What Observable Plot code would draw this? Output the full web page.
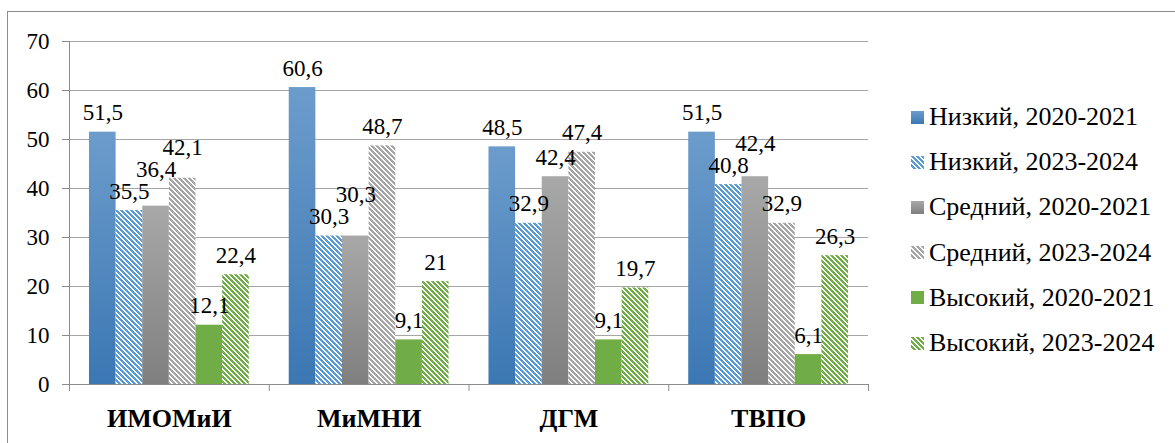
<!DOCTYPE html>
<html>
<head>
<meta charset="utf-8">
<script src="https://cdn.jsdelivr.net/npm/d3@7"></script>
<script src="https://cdn.jsdelivr.net/npm/@observablehq/plot@0.6"></script>
<style>
  body { margin: 0; background: #fff; }
  #wrap { position: relative; width: 1175px; height: 443px; overflow: hidden; font-family: "Liberation Serif", "DejaVu Serif", serif; }
  #border { position: absolute; left: 7px; top: 11px; width: 1300px; height: 600px; border-top: 1px solid #8c8c8c; border-left: 1px solid #8c8c8c; }
  #chart { position: absolute; left: 0; top: 0; }
  #legend { position: absolute; left: 911px; top: 0; }
  .row { position: absolute; left: 0; display: flex; align-items: center; white-space: nowrap; font-size: 26px; line-height: 30px; height: 30px; color: #000; }
  .row svg { margin-right: 5px; }
</style>
</head>
<body>
<div id="wrap">
  <div id="border"></div>
  <div id="chart"></div>
  <div id="legend"></div>
</div>
<script>
// ---- data ----
const categories = ["ИМОМиИ", "МиМНИ", "ДГМ", "ТВПО"];
const seriesNames = ["Низкий, 2020-2021", "Низкий, 2023-2024", "Средний, 2020-2021", "Средний, 2023-2024", "Высокий, 2020-2021", "Высокий, 2023-2024"];
const low2020 = [51.5, 60.6, 48.5, 51.5];
const low2023 = [35.5, 30.3, 32.9, 40.8];
const mid2020 = [36.4, 30.3, 42.4, 42.4];
const mid2023 = [42.1, 48.7, 47.4, 32.9];
const high2020 = [12.1, 9.1, 9.1, 6.1];
const high2023 = [22.4, 21, 19.7, 26.3];
const yTicks = [0, 10, 20, 30, 40, 50, 60, 70];

// ---- styles ----
const seriesValues = [low2020, low2023, mid2020, mid2023, high2020, high2023];
const fills = ["url(#gBlue)", "url(#hBlue)", "url(#gGray)", "url(#hGray)", "#70ad47", "url(#hGreen)"];
const nS = seriesNames.length;
const groupPad = 0.1;
const bw = (1 - 2 * groupPad) / nS;
const H = 443, MT = 41, MB = 59, YMAX = 70;
const pxPerUnit = (H - MT - MB) / YMAX;
const labelH = 22 / pxPerUnit; // label height in data units

const rows = categories.flatMap((c, i) => seriesValues.map((vals, j) => ({cat: c, i, j, value: vals[i]})));
// lift a value label above its left neighbour when they would collide
categories.forEach((c, i) => {
  let prev = null;
  rows.filter(d => d.i === i).forEach(d => {
    let ly = d.value;
    if (prev !== null && ly < prev + labelH && ly + labelH > prev) ly = prev + labelH;
    d.labelY = ly;
    prev = ly;
  });
});
const fmt = v => String(v).replace(".", ",");
const font = "'Liberation Serif', 'DejaVu Serif', serif";
const axisColor = "#8c8c8c";

const marks = [
  Plot.gridY({ticks: yTicks, stroke: "#a6a6a6", strokeOpacity: 1}),
  ...seriesValues.map((_, j) => Plot.rectY(rows.filter(d => d.j === j), {
    x1: d => d.i + groupPad + d.j * bw,
    x2: d => d.i + groupPad + (d.j + 1) * bw,
    y1: 0, y2: "value", fill: fills[j]
  })),
  Plot.ruleX([0], {y1: 0, y2: YMAX, stroke: axisColor}),
  Plot.ruleY([0], {stroke: axisColor}),
  Plot.axisY({ticks: yTicks, tickSize: 7, tickPadding: 13, stroke: axisColor, strokeOpacity: 1, fill: "#000", fontSize: 23, fontFamily: font, label: null}),
  Plot.axisX({ticks: [0, 1, 2, 3, 4], tickSize: 7, tickFormat: () => "", stroke: axisColor, strokeOpacity: 1, label: null}),
  Plot.text(rows, {
    x: d => d.i + groupPad + (d.j + 0.5) * bw, y: "labelY", text: d => fmt(d.value),
    lineAnchor: "bottom", dy: -12, fontSize: 23, fontFamily: font, fill: "#000"
  }),
  Plot.text(categories, {
    x: (d, i) => i + 0.5, y: () => 0, text: d => d,
    lineAnchor: "middle", dy: 34, fontSize: 26, fontWeight: "bold", fontFamily: font, fill: "#000"
  })
];

const chart = Plot.plot({
  width: 1175, height: H,
  marginLeft: 69, marginRight: 307, marginTop: MT, marginBottom: MB,
  x: {type: "linear", domain: [0, categories.length], axis: null},
  y: {domain: [0, YMAX], axis: null},
  style: {background: "transparent", overflow: "visible", fontFamily: font},
  marks
});

const defs = `
<defs>
  <linearGradient id="gBlue" x1="0" y1="0" x2="0" y2="1">
    <stop offset="0" stop-color="#6c9ccc"/><stop offset="1" stop-color="#3b77b3"/>
  </linearGradient>
  <linearGradient id="gGray" x1="0" y1="0" x2="0" y2="1">
    <stop offset="0" stop-color="#a8a8a8"/><stop offset="1" stop-color="#7f7f7f"/>
  </linearGradient>
  ${[["hBlue", "#5b9bd5"], ["hGray", "#a5a5a5"], ["hGreen", "#70ad47"]].map(([id, c]) => `
  <pattern id="${id}" patternUnits="userSpaceOnUse" x="0" y="0" width="5" height="5" shape-rendering="crispEdges">
    <rect x="0" y="0" width="5" height="5" fill="#fff"/>
    ${[0, 1, 2, 3, 4].map(r => [0, 1, 2].map(k => `<rect x="${(r + k) % 5}" y="${r}" width="1" height="1" fill="${c}"/>`).join("")).join("")}
  </pattern>`).join("")}
</defs>`;
chart.insertAdjacentHTML("afterbegin", defs);
document.getElementById("chart").appendChild(chart);

// ---- legend ----
const legend = document.getElementById("legend");
seriesNames.forEach((name, k) => {
  const row = document.createElement("div");
  row.className = "row";
  row.style.top = (117 + k * 45.2 - 15) + "px";
  row.innerHTML = `<svg width="13" height="13"><rect width="13" height="13" fill="${fills[k]}"/></svg><span>${name}</span>`;
  legend.appendChild(row);
});
</script>
</body>
</html>
